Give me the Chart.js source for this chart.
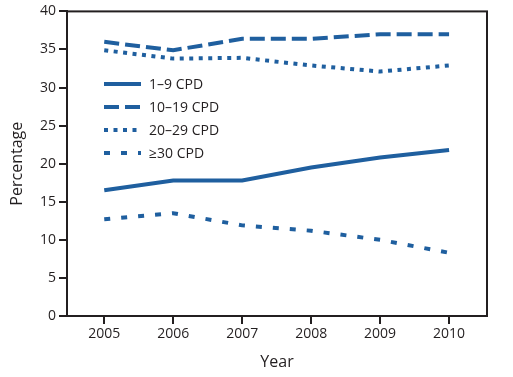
<!DOCTYPE html>
<html>
<head>
<meta charset="utf-8">
<script src="https://cdn.jsdelivr.net/npm/chart.js@4.4.0/dist/chart.umd.min.js"></script>
<style>
  html, body { margin: 0; padding: 0; background: #fff; }
  #wrap { width: 513px; height: 377px; }
</style>
</head>
<body>
<div id="wrap"><canvas id="chart"></canvas></div>
<script>
// values
const years = [2005, 2006, 2007, 2008, 2009, 2010];
const cpd1to9 = [16.5, 17.8, 17.8, 19.5, 20.8, 21.8];
const cpd10to19 = [36.0, 34.9, 36.4, 36.4, 37.0, 37.0];
const cpd20to29 = [34.9, 33.8, 33.9, 32.9, 32.1, 32.9];
const cpd30plus = [12.7, 13.5, 11.9, 11.2, 10.0, 8.3];
const yTicks = [0, 5, 10, 15, 20, 25, 30, 35, 40];

const blue = "#1f5f9f";
const ink = "#231f20";
const font = "'Open Sans', sans-serif";

function series(label, vals, dash) {
    return {
        label: label,
        data: years.map((yr, i) => ({x: yr, y: vals[i]})),
        borderColor: blue,
        backgroundColor: blue,
        borderWidth: 4,
        borderDash: dash,
        borderCapStyle: "butt",
        pointRadius: 0,
        tension: 0,
        fill: false
    };
}

// legend drawn inside the plot + the box around the plot
const framePlugin = {
    id: "frame",
    afterDraw(chart) {
        const ctx = chart.ctx;
        const a = chart.chartArea;
        ctx.save();
        ctx.strokeStyle = ink;
        ctx.lineWidth = 2;
        ctx.strokeRect(a.left, a.top, a.right - a.left, a.bottom - a.top);

        ctx.font = "14px " + font;
        ctx.textBaseline = "middle";
        chart.data.datasets.forEach((ds, i) => {
            const y = 84 + i * 23;
            ctx.strokeStyle = ds.borderColor;
            ctx.lineWidth = 4;
            ctx.lineCap = "butt";
            ctx.setLineDash(ds.borderDash);
            ctx.beginPath();
            ctx.moveTo(104, y);
            ctx.lineTo(141, y);
            ctx.stroke();
            ctx.setLineDash([]);
            ctx.fillStyle = ink;
            ctx.fillText(ds.label, 149, y + 1);
        });
        ctx.restore();
    }
};

new Chart(document.getElementById("chart"), {
    type: "line",
    data: {
        datasets: [
            series("1–9 CPD", cpd1to9, []),
            series("10–19 CPD", cpd10to19, [15, 6]),
            series("20–29 CPD", cpd20to29, [4, 5.5]),
            series("≥30 CPD", cpd30plus, [6, 11])
        ]
    },
    options: {
        responsive: true,
        maintainAspectRatio: false,
        animation: false,
        layout: { padding: { top: 9, right: 26, left: 8, bottom: 0 } },
        plugins: {
            legend: { display: false },
            tooltip: { enabled: false }
        },
        scales: {
            x: {
                type: "linear",
                min: 2004.46,
                max: 2010.55,
                afterBuildTicks: s => { s.ticks = years.map(v => ({value: v})); },
                afterFit: s => { s.height = 61; },
                grid: { drawOnChartArea: false, drawTicks: true, tickLength: 8, color: ink, lineWidth: 2 },
                border: { display: true, color: ink, width: 2 },
                ticks: {
                    color: ink,
                    font: { family: font, size: 14 },
                    padding: 2,
                    maxRotation: 0,
                    callback: v => String(v)
                },
                title: {
                    display: true,
                    text: "Year",
                    color: ink,
                    font: { family: font, size: 16 },
                    padding: { top: 3, bottom: 5 }
                }
            },
            y: {
                min: 0,
                max: 40,
                afterBuildTicks: s => { s.ticks = yTicks.map(v => ({value: v})); },
                afterFit: s => { s.width = 59; },
                grid: { drawOnChartArea: false, drawTicks: true, tickLength: 8, color: ink, lineWidth: 2 },
                border: { display: true, color: ink, width: 2 },
                ticks: {
                    color: ink,
                    font: { family: font, size: 14 },
                    padding: 3
                },
                title: {
                    display: true,
                    text: "Percentage",
                    color: ink,
                    font: { family: font, size: 16 },
                    padding: { top: 0, bottom: 6 }
                }
            }
        }
    },
    plugins: [framePlugin]
});
</script>
</body>
</html>
